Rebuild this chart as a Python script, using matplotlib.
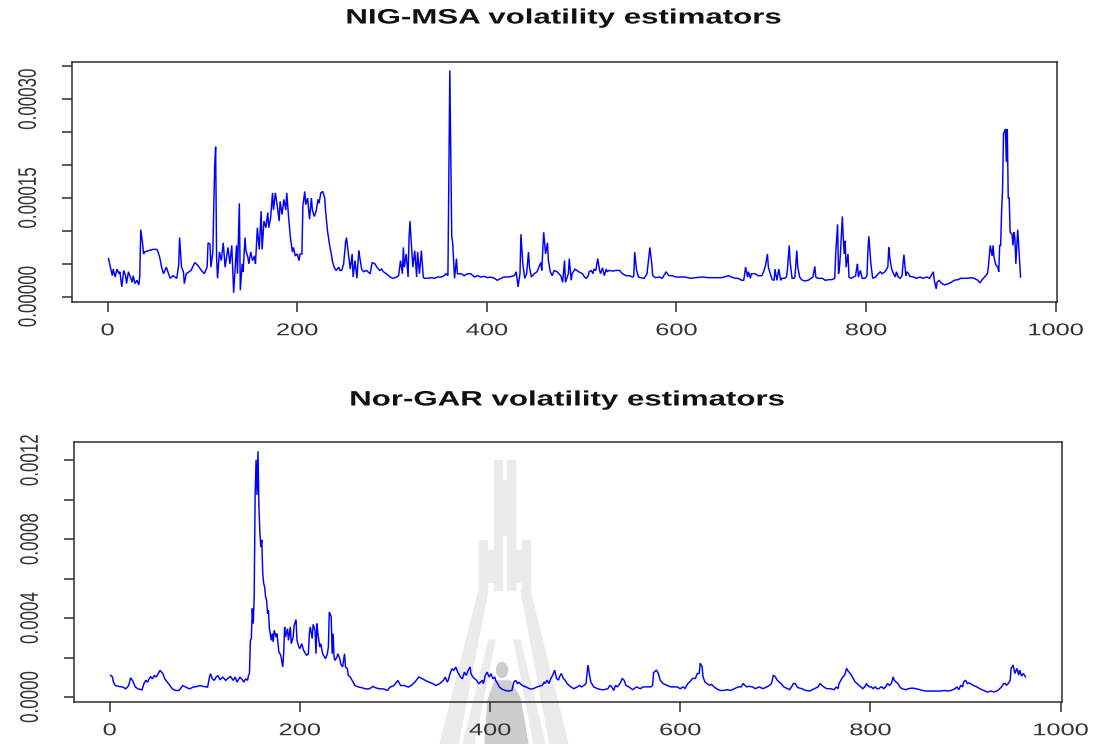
import matplotlib
matplotlib.use('Agg')
import matplotlib.pyplot as plt
import numpy as np
from matplotlib.patheffects import AbstractPathEffect
from matplotlib.transforms import Affine2D
from matplotlib.patches import Polygon, Rectangle, Ellipse

plt.rcParams['font.family'] = ['Liberation Sans', 'DejaVu Sans']

# NIG-MSA volatility estimates, observation index and value (x 1e-5)
nig_idx = [1, 3, 5, 6, 8, 10, 12, 13, 15, 17, 19, 20, 22, 24, 26, 27, 29, 31, 33, 34,
           35, 37, 38, 39, 43, 48, 52, 53, 55, 57, 59, 62, 66, 69, 73, 75, 76, 78, 80, 81,
           83, 88, 92, 95, 99, 102, 105, 106, 108, 109, 111, 113, 114, 115, 116, 118, 120, 122, 124, 127,
           129, 131, 133, 135, 136, 137, 139, 140, 142, 143, 145, 146, 148, 149, 151, 153, 155, 156, 158, 160,
           162, 163, 165, 167, 169, 170, 172, 174, 175, 177, 179, 181, 182, 184, 186, 188, 189, 191, 193, 195,
           196, 198, 200, 202, 203, 205, 206, 208, 209, 211, 213, 215, 216, 218, 220, 222, 223, 225, 227, 229,
           230, 232, 234, 236, 237, 239, 241, 244, 245, 247, 249, 251, 252, 254, 256, 258, 259, 261, 263, 265,
           266, 268, 270, 273, 277, 279, 282, 284, 287, 289, 291, 294, 298, 301, 305, 307, 309, 311, 312, 313,
           315, 317, 318, 319, 320, 322, 324, 326, 327, 329, 331, 333, 334, 338, 341, 345, 348, 352, 355, 357,
           359, 360, 361, 363, 364, 366, 368, 369, 373, 376, 380, 383, 387, 390, 394, 397, 401, 404, 408, 411,
           415, 418, 423, 429, 431, 433, 435, 436, 438, 440, 442, 444, 445, 447, 450, 453, 457, 458, 460, 462,
           464, 465, 467, 469, 471, 474, 478, 480, 482, 483, 486, 487, 489, 490, 493, 497, 501, 503, 505, 507,
           508, 510, 512, 513, 515, 517, 519, 520, 522, 524, 526, 527, 529, 533, 536, 540, 543, 547, 550, 554,
           555, 556, 558, 560, 562, 566, 569, 570, 572, 574, 575, 578, 582, 585, 588, 589, 592, 596, 599, 602,
           609, 615, 620, 627, 634, 641, 648, 655, 658, 662, 665, 669, 671, 673, 675, 676, 678, 679, 683, 686,
           690, 692, 694, 696, 697, 699, 701, 703, 704, 706, 708, 710, 711, 714, 716, 717, 719, 720, 722, 724,
           725, 727, 728, 730, 732, 735, 739, 742, 744, 746, 747, 749, 754, 757, 761, 764, 767, 768, 770, 771,
           772, 773, 775, 776, 777, 778, 779, 781, 782, 784, 787, 789, 790, 791, 792, 794, 796, 799, 801, 802,
           803, 805, 806, 807, 810, 813, 815, 817, 820, 823, 824, 825, 827, 829, 831, 832, 834, 836, 838, 839,
           840, 842, 843, 845, 846, 850, 853, 857, 860, 864, 867, 871, 872, 874, 875, 877, 880, 883, 887, 890,
           893, 897, 900, 904, 907, 911, 914, 918, 920, 922, 925, 928, 929, 931, 933, 934, 935, 937, 939, 940,
           941, 942, 943, 944, 945, 947, 948, 949, 950, 951, 952, 954, 955, 956, 957, 958, 960, 963]
nig_vol = [5.8, 4.5, 3.2, 4.2, 3.0, 4.2, 3.5, 3.8, 1.5, 4.0, 3.2, 2.0, 3.8, 3.0, 2.2, 3.2, 2.0, 2.5, 1.8, 3.2,
           10.2, 8.0, 6.5, 6.8, 7.0, 7.2, 7.2, 6.9, 6.0, 4.5, 3.5, 4.5, 2.8, 3.2, 2.8, 4.8, 9.0, 4.5, 3.8, 2.0,
           3.5, 4.0, 5.2, 4.8, 4.0, 3.5, 4.5, 8.2, 8.0, 4.5, 6.8, 20.0, 22.8, 6.0, 2.8, 6.8, 5.5, 8.2, 4.5, 7.5,
           5.0, 7.8, 0.6, 5.5, 7.8, 3.5, 14.2, 1.0, 5.0, 3.8, 9.0, 7.0, 6.0, 5.0, 6.8, 5.5, 6.2, 5.0, 10.5, 7.2,
           13.0, 7.2, 11.5, 10.5, 12.8, 10.5, 12.0, 15.8, 13.2, 15.8, 13.8, 11.5, 14.5, 12.5, 14.8, 13.2, 15.8, 12.0, 8.8, 6.8,
           7.5, 6.2, 6.5, 5.5, 6.5, 6.5, 13.8, 16.0, 14.0, 15.0, 11.8, 15.0, 13.2, 12.2, 13.0, 14.8, 14.2, 15.8, 16.0, 15.0,
           13.0, 10.0, 8.0, 6.5, 5.5, 4.5, 4.0, 4.5, 4.0, 4.0, 5.0, 8.2, 9.0, 6.5, 4.2, 6.5, 3.0, 5.5, 2.8, 7.0,
           6.0, 4.2, 3.8, 4.0, 3.5, 5.2, 5.0, 4.5, 4.0, 4.2, 3.8, 3.5, 3.0, 2.8, 3.0, 3.2, 5.5, 3.5, 7.5, 4.5,
           6.5, 3.0, 9.0, 11.5, 9.0, 4.5, 7.0, 3.0, 6.8, 3.5, 7.0, 3.0, 2.8, 2.8, 2.9, 2.8, 3.0, 3.0, 3.2, 3.5,
           3.2, 18.5, 34.4, 9.2, 8.2, 2.8, 5.8, 3.5, 3.5, 3.2, 3.5, 3.5, 3.0, 3.2, 3.0, 3.1, 2.9, 3.0, 2.8, 2.5,
           2.8, 3.0, 3.0, 3.2, 3.8, 1.5, 3.5, 9.5, 5.0, 2.8, 3.5, 6.8, 4.5, 3.0, 3.5, 3.8, 5.2, 4.0, 9.8, 6.5,
           8.2, 5.5, 3.8, 3.2, 4.0, 3.8, 3.2, 2.2, 5.5, 2.2, 3.5, 5.8, 2.5, 3.5, 4.2, 3.8, 3.5, 3.0, 2.8, 3.2,
           3.8, 4.0, 3.5, 4.2, 4.0, 5.8, 4.0, 3.5, 4.4, 3.2, 4.2, 3.8, 4.0, 3.9, 4.0, 4.0, 3.5, 3.2, 3.2, 3.0,
           3.2, 6.8, 4.0, 3.0, 2.9, 2.8, 3.5, 4.8, 7.5, 5.0, 3.2, 2.9, 3.0, 2.8, 3.5, 3.8, 3.2, 3.2, 3.0, 3.0,
           3.0, 2.8, 2.9, 3.0, 2.9, 2.9, 2.9, 3.2, 3.0, 2.8, 2.8, 2.5, 2.5, 4.5, 3.0, 3.8, 2.8, 3.5, 3.5, 3.2,
           3.2, 3.8, 4.8, 6.5, 4.5, 3.5, 2.6, 2.5, 4.2, 2.5, 4.2, 2.5, 2.8, 2.8, 3.0, 4.0, 7.8, 5.2, 2.8, 2.8,
           3.0, 7.0, 4.5, 3.0, 2.6, 2.4, 2.5, 2.8, 3.0, 4.6, 3.0, 2.8, 2.8, 2.5, 2.6, 2.6, 2.8, 6.5, 11.0, 3.5,
           4.5, 6.5, 12.2, 9.0, 6.5, 8.5, 4.5, 6.5, 3.0, 2.8, 3.0, 3.2, 4.2, 5.0, 3.0, 4.0, 2.8, 2.8, 3.2, 7.0,
           9.2, 5.2, 4.0, 2.8, 3.0, 3.5, 3.8, 3.5, 3.8, 4.5, 7.5, 6.0, 4.2, 3.5, 3.0, 3.8, 3.0, 2.8, 3.2, 5.0,
           6.4, 3.2, 3.8, 3.5, 3.1, 3.0, 2.8, 3.0, 2.8, 3.0, 2.8, 3.8, 2.5, 1.2, 2.2, 2.5, 2.0, 1.8, 2.0, 2.2,
           2.5, 2.6, 2.8, 2.8, 2.8, 2.9, 2.8, 2.5, 2.1, 2.5, 3.0, 3.5, 4.5, 7.8, 6.2, 7.8, 6.0, 4.8, 4.5, 3.8,
           7.8, 7.8, 13.0, 16.2, 24.8, 25.5, 20.5, 25.5, 15.0, 15.0, 9.8, 9.5, 7.8, 9.8, 9.0, 5.0, 10.2, 3.0]

# Nor-GAR volatility estimates, observation index and value (x 1e-4)
gar_idx = [1, 3, 4, 6, 10, 14, 17, 20, 22, 24, 27, 30, 34, 36, 38, 40, 41, 43, 45, 47,
           49, 51, 53, 56, 58, 62, 66, 69, 73, 77, 80, 84, 88, 92, 95, 99, 103, 105, 106, 108,
           110, 112, 114, 116, 119, 122, 125, 127, 130, 132, 134, 137, 140, 141, 143, 145, 146, 147, 148, 149,
           150, 151, 152, 153, 154, 155, 156, 157, 158, 159, 160, 161, 162, 163, 164, 165, 166, 167, 168, 170,
           171, 172, 173, 175, 176, 177, 178, 180, 182, 183, 184, 185, 187, 188, 190, 191, 193, 194, 196, 197,
           199, 200, 202, 204, 206, 207, 209, 210, 211, 213, 214, 216, 217, 218, 219, 221, 222, 224, 225, 227,
           229, 230, 231, 233, 234, 235, 236, 237, 239, 240, 242, 243, 245, 247, 248, 250, 251, 253, 255, 258,
           262, 266, 269, 273, 277, 280, 284, 288, 292, 295, 299, 303, 305, 306, 310, 314, 317, 321, 325, 329,
           332, 336, 340, 343, 347, 351, 353, 355, 356, 358, 360, 362, 364, 366, 367, 369, 371, 373, 375, 377,
           379, 380, 382, 384, 386, 388, 390, 392, 393, 395, 397, 399, 401, 403, 405, 406, 408, 410, 412, 416,
           419, 423, 425, 427, 429, 430, 434, 438, 442, 445, 449, 455, 457, 458, 460, 462, 464, 466, 468, 470,
           472, 473, 475, 477, 479, 481, 485, 488, 492, 494, 496, 499, 501, 502, 503, 505, 506, 509, 513, 517,
           520, 524, 526, 528, 530, 532, 534, 537, 539, 541, 543, 546, 550, 554, 558, 561, 565, 569, 571, 572,
           575, 577, 579, 582, 586, 590, 593, 597, 600, 603, 605, 608, 610, 613, 616, 618, 620, 621, 623, 624,
           626, 628, 631, 633, 635, 638, 642, 646, 649, 653, 657, 661, 664, 666, 668, 670, 672, 676, 679, 683,
           687, 691, 694, 696, 698, 700, 702, 704, 706, 709, 713, 715, 717, 719, 721, 723, 724, 728, 732, 736,
           739, 741, 745, 747, 749, 751, 754, 758, 762, 764, 766, 767, 769, 771, 773, 775, 777, 779, 781, 782,
           784, 786, 788, 790, 792, 794, 796, 797, 799, 801, 803, 805, 807, 809, 811, 812, 814, 816, 818, 820,
           822, 824, 825, 827, 829, 831, 833, 837, 840, 844, 848, 852, 855, 859, 863, 867, 870, 874, 878, 882,
           885, 889, 891, 893, 895, 897, 898, 900, 902, 904, 908, 912, 915, 919, 923, 927, 930, 934, 936, 938,
           940, 942, 943, 945, 947, 948, 950, 952, 954, 956, 957, 959, 961, 963]
gar_vol = [1.10, 1.02, 0.76, 0.59, 0.54, 0.51, 0.42, 0.59, 0.98, 0.85, 0.51, 0.42, 0.37, 0.68, 0.85, 0.76, 0.88, 1.05, 0.93, 1.10,
           1.02, 1.19, 1.36, 1.19, 0.93, 0.68, 0.42, 0.34, 0.34, 0.59, 0.51, 0.42, 0.51, 0.54, 0.59, 0.54, 0.51, 1.02, 1.19, 0.93,
           0.85, 1.02, 1.10, 0.88, 1.02, 0.85, 0.98, 1.05, 0.85, 1.02, 0.76, 1.02, 0.85, 0.76, 0.93, 0.85, 1.10, 1.19, 2.88, 2.97,
           4.49, 3.73, 5.08, 10.25, 12.03, 10.25, 12.46, 9.66, 8.31, 7.63, 7.97, 6.27, 5.76, 5.59, 5.08, 4.92, 4.24, 4.41, 3.47, 2.88,
           3.22, 2.80, 3.39, 3.05, 3.22, 2.71, 2.29, 2.12, 1.53, 2.20, 3.56, 3.05, 3.47, 2.88, 3.56, 2.71, 3.05, 3.64, 3.93, 2.88,
           2.54, 2.46, 2.71, 2.37, 2.20, 2.12, 2.20, 3.22, 3.56, 2.97, 3.69, 3.39, 2.20, 3.73, 3.22, 2.54, 2.71, 2.20, 2.12, 1.95,
           2.20, 2.54, 4.32, 4.07, 2.20, 3.22, 2.03, 1.86, 2.03, 2.20, 1.95, 1.69, 1.53, 2.20, 1.53, 1.44, 1.10, 1.02, 0.85, 0.59,
           0.51, 0.47, 0.42, 0.42, 0.54, 0.47, 0.42, 0.42, 0.34, 0.51, 0.59, 0.85, 0.68, 0.59, 0.59, 0.51, 0.59, 0.76, 1.02, 0.93,
           0.85, 0.76, 0.68, 0.59, 0.68, 0.85, 1.02, 0.76, 0.85, 1.19, 1.44, 1.36, 1.53, 1.27, 1.19, 1.02, 0.93, 1.27, 1.10, 1.36,
           1.53, 1.19, 1.02, 0.93, 0.85, 0.68, 0.76, 0.85, 0.68, 1.10, 1.27, 1.02, 1.19, 0.93, 1.02, 0.85, 0.68, 0.51, 0.42, 0.34,
           0.31, 0.34, 0.76, 0.85, 0.68, 0.76, 0.59, 0.51, 0.42, 0.42, 0.51, 0.60, 0.77, 0.69, 0.86, 0.69, 0.95, 1.12, 1.37, 0.95,
           0.86, 1.03, 1.20, 0.95, 0.86, 0.69, 0.52, 0.43, 0.52, 0.60, 0.52, 0.60, 0.69, 1.20, 1.63, 1.03, 0.77, 0.52, 0.43, 0.38,
           0.38, 0.43, 0.60, 0.52, 0.34, 0.60, 0.52, 0.72, 0.95, 0.86, 0.60, 0.52, 0.38, 0.52, 0.43, 0.52, 0.52, 0.52, 0.60, 1.24,
           1.37, 1.20, 0.86, 0.69, 0.60, 0.52, 0.52, 0.52, 0.43, 0.52, 0.43, 0.69, 0.77, 0.95, 0.95, 1.20, 1.20, 1.72, 1.55, 1.03,
           0.77, 0.69, 0.60, 0.65, 0.55, 0.43, 0.34, 0.34, 0.38, 0.34, 0.43, 0.52, 0.52, 0.69, 0.60, 0.52, 0.55, 0.52, 0.43, 0.52,
           0.43, 0.52, 0.60, 0.69, 1.12, 1.03, 0.86, 0.77, 0.69, 0.52, 0.43, 0.38, 0.52, 0.69, 0.69, 0.52, 0.48, 0.43, 0.34, 0.31,
           0.38, 0.43, 0.52, 0.69, 0.60, 0.52, 0.43, 0.43, 0.38, 0.52, 0.43, 0.69, 0.86, 1.03, 1.12, 1.46, 1.29, 1.20, 1.03, 0.95,
           0.77, 0.69, 0.60, 0.52, 0.43, 0.52, 0.69, 0.60, 0.52, 0.52, 0.43, 0.52, 0.43, 0.43, 0.52, 0.52, 0.43, 0.52, 0.69, 0.60,
           0.69, 1.03, 0.86, 0.77, 0.69, 0.52, 0.43, 0.38, 0.43, 0.46, 0.43, 0.38, 0.34, 0.31, 0.31, 0.31, 0.31, 0.31, 0.34, 0.31,
           0.34, 0.43, 0.52, 0.38, 0.60, 0.52, 0.77, 0.86, 0.69, 0.72, 0.60, 0.52, 0.43, 0.34, 0.26, 0.31, 0.26, 0.34, 0.43, 0.52,
           0.69, 0.69, 0.60, 0.69, 0.86, 1.46, 1.63, 1.20, 1.46, 1.12, 1.37, 1.07, 1.20, 1.03]

x_ticks = [0, 200, 400, 600, 800, 1000]
nig_yticks = [0, 5e-5, 1e-4, 1.5e-4, 2e-4, 2.5e-4, 3e-4, 3.5e-4]
nig_ylabels = ['0.00000', '', '', '0.00015', '', '', '0.00030', '']
gar_yticks = [0, 2e-4, 4e-4, 6e-4, 8e-4, 1e-3, 1.2e-3]
gar_ylabels = ['0.0000', '', '0.0004', '', '0.0008', '', '0.0012']

W, H = 1098, 744
BOX = '#2e2e2e'
INK = '#333333'


class WideText(AbstractPathEffect):
    """Draw glyphs stretched sideways around their own centre."""

    def __init__(self, sx=1.5):
        super().__init__()
        self.sx = sx

    def draw_path(self, renderer, gc, tpath, affine, rgbFace=None):
        bb = tpath.get_extents(affine)
        cx = 0.5 * (bb.x0 + bb.x1)
        widen = Affine2D().translate(-cx, 0).scale(self.sx, 1).translate(cx, 0)
        renderer.draw_path(gc, tpath, affine + widen, rgbFace)


def r_range(v):
    # same 4% padding as R's default axis range
    lo, hi = min(v), max(v)
    d = 0.04 * (hi - lo)
    return lo - d, hi + d


def draw_series(ax, idx, vals, scale, yticks, ylabels):
    y = np.array(vals) * scale
    ax.plot(idx, y, color='#0000ff', lw=1.05, solid_joinstyle='miter')
    ax.set_facecolor('none')
    ax.set_xlim(*r_range(idx))
    ax.set_ylim(*r_range(y))
    ax.set_xticks(x_ticks)
    ax.set_yticks(yticks)
    ax.set_yticklabels(ylabels, rotation=90, va='center')
    for s in ax.spines.values():
        s.set_color(BOX)
        s.set_linewidth(1.1)
    ax.tick_params(direction='out', length=7.5, width=1.1, color=BOX,
                   labelsize=12.2, labelcolor=INK)
    ax.tick_params(axis='x', pad=8.0)
    ax.tick_params(axis='y', pad=18.5)
    for lab in ax.get_xticklabels() + ax.get_yticklabels():
        lab.set_path_effects([WideText(1.5)])


def draw_emblem(fig):
    # faint tower emblem printed behind the lower panel (pixel coords)
    px = Affine2D().scale(1.0 / W, -1.0 / H).translate(0, 1) + fig.transFigure
    light = '#ebebeb'
    statue = '#cdcdcd'
    shapes = [
        # spire: two prongs joined by a cross piece
        Rectangle((494, 460), 8, 130, color=light),
        Rectangle((507, 460), 8, 130, color=light),
        Rectangle((500, 480), 9, 55, color=light),
        # shoulders either side of the spire
        Rectangle((479, 540), 8, 50, color=light),
        Rectangle((487, 550), 6, 32, color=light),
        Rectangle((522, 540), 8, 50, color=light),
        Rectangle((516, 550), 6, 32, color=light),
        # legs spreading down past the axis
        Polygon([(479, 590), (488, 590), (458, 744), (440, 744)], color=light),
        Polygon([(521, 590), (530, 590), (568, 744), (550, 744)], color=light),
        Polygon([(489, 640), (495, 640), (474, 744), (463, 744)], color=light),
        Polygon([(514, 640), (520, 640), (545, 744), (534, 744)], color=light),
        # seated figure at the foot
        Ellipse((502, 670), 11, 15, color=statue),
        Polygon([(485, 744), (488, 700), (495, 681), (510, 681), (520, 698), (528, 744)],
                color=statue),
    ]
    for p in shapes:
        p.set_transform(px)
        p.set_zorder(-5)
        fig.patches.append(p)


if __name__ == '__main__':
    fig = plt.figure(figsize=(W / 100, H / 100), dpi=100)
    draw_emblem(fig)

    ax1 = fig.add_axes([0.0656, 0.5945, 0.8971, 0.3228])
    draw_series(ax1, nig_idx, nig_vol, 1e-5, nig_yticks, nig_ylabels)
    ax2 = fig.add_axes([0.0674, 0.0569, 0.8998, 0.3495])
    draw_series(ax2, gar_idx, gar_vol, 1e-4, gar_yticks, gar_ylabels)

    for xc, yc, title in [(0.5141, 0.9758, 'NIG-MSA volatility estimators'),
                          (0.5173, 0.4624, 'Nor-GAR volatility estimators')]:
        t = fig.text(xc, yc, title, ha='center', va='center', fontsize=15,
                     fontweight='bold', color='#111111')
        t.set_path_effects([WideText(1.5)])

    plt.savefig('out.png', dpi=100)
